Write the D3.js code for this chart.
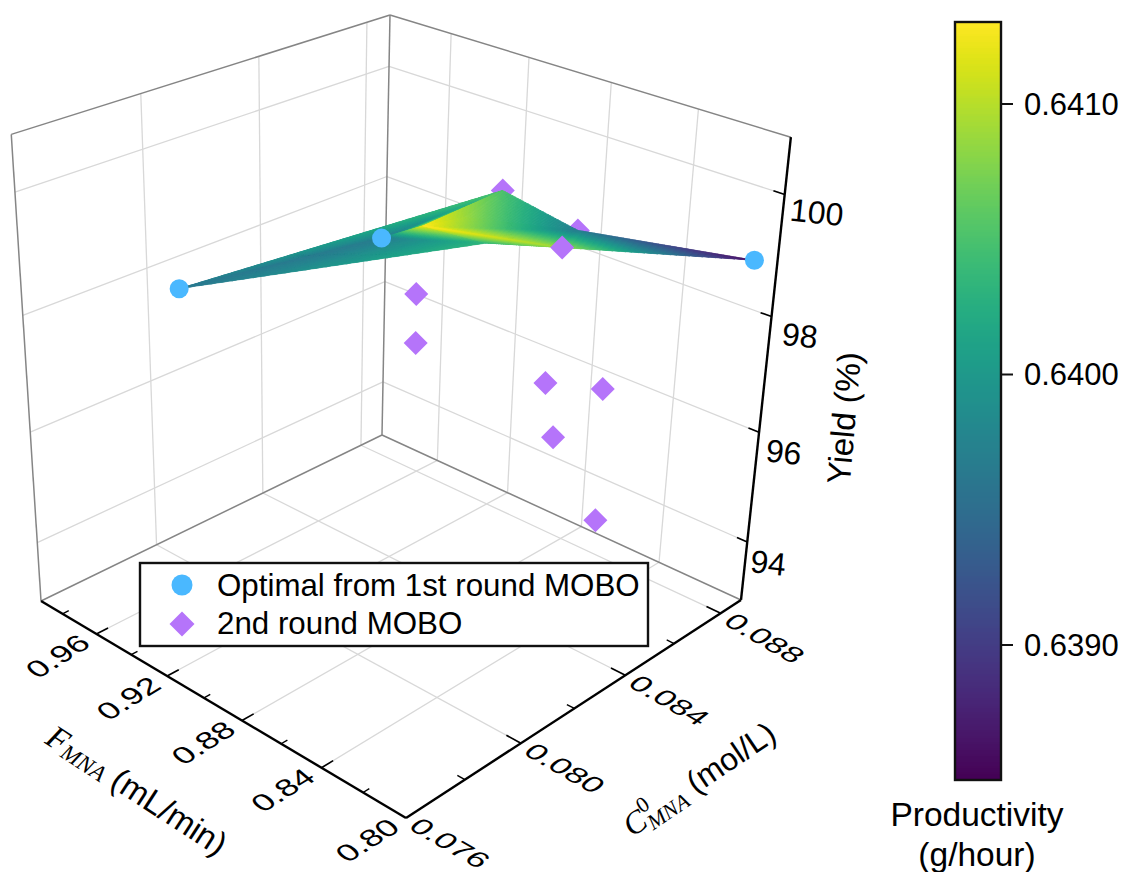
<!DOCTYPE html><html><head><meta charset="utf-8"><style>html,body{margin:0;background:#fff}svg{display:block}text{font-family:"Liberation Sans",Arial,sans-serif;fill:#000}</style></head><body><svg id="c" width="1121" height="872"></svg><script src="https://cdn.jsdelivr.net/npm/d3@7"></script><script>
// ---- data ----
const fTicks=[0.96,0.92,0.88,0.84,0.80];
const fMinor=[0.98,0.94,0.90,0.86,0.82];
const cTicks=[0.076,0.080,0.084,0.088];
const cMinor=[0.078,0.082,0.086];
const yTicks=[94,96,98,100];
const prodTicks=[0.6390,0.6400,0.6410];
// first-round optima: [F, C, yield]
const round1=[[0.931,0.0774,99],[0.912,0.0829,99],[0.804,0.0883,99]];
// second-round points: [F, C, yield]
const round2Back=[[0.873,0.0843,100],[0.909,0.0842,99],[0.866,0.0867,99]];
const round2Front=[[0.860,0.0856,99],[0.905,0.0837,98],[0.910,0.0841,97],[0.883,0.0872,96],[0.864,0.0880,96],[0.880,0.0874,95],[0.852,0.0870,94]];
// surface vertices: F, C, yield, productivity
const surfF=[0.931,0.912,0.873,0.909,0.882,0.860,0.866,0.804,0.904];
const surfC=[0.0774,0.0829,0.0843,0.0842,0.0845,0.0856,0.0867,0.0883,0.0853];
const surfY=[99,99,100,99,99,99,99,99,99];
const surfP=[0.63962,0.63968,0.64052,0.6413,0.64035,0.64088,0.63968,0.63856,0.64091];
const surfTri=[[0,2,1],[0,1,4],[1,2,3],[1,3,4],[2,8,3],[2,6,8],[3,8,6],[3,6,5],[3,5,4],[5,6,7]];
const legendLabels=["Optimal from 1st round MOBO","2nd round MOBO"];

// ---- projection ----
const aS=d3.scaleLinear().domain([0.993,0.80]).range([0,1]);
const bS=d3.scaleLinear().domain([0.0889,0.076]).range([0,1]);
const wS=d3.scaleLinear().domain([92.9,100.9]).range([0,1]);
function projRaw(a,b,w){
  const W=1-.1161*a-.123*b-.09*w;
  return [(382+272.97*a-346.04*b-27.1*w)/W,(435+95.3*a+92.1*b-421.35*w)/W];
}
const proj=(f,c,y)=>projRaw(aS(f),bS(c),wS(y));
const svg=d3.select("#c");
const line=d3.line();
function seg(g,p,q,col,wd){g.append("path").attr("d",line([p,q])).attr("fill","none").attr("stroke",col).attr("stroke-width",wd);}

// ---- panes ----
const gridCol="#d8d8d8",edgeCol="#858585";
const grid=svg.append("g");
fTicks.filter(f=>f>0.8).forEach(f=>{
  seg(grid,projRaw(aS(f),0,0),projRaw(aS(f),1,0),gridCol,1.3);
  seg(grid,projRaw(aS(f),0,0),projRaw(aS(f),0,1),gridCol,1.3);
});
cTicks.filter(c=>c>0.076).forEach(c=>{
  seg(grid,projRaw(0,bS(c),0),projRaw(1,bS(c),0),gridCol,1.3);
  seg(grid,projRaw(0,bS(c),0),projRaw(0,bS(c),1),gridCol,1.3);
});
yTicks.forEach(y=>{
  seg(grid,projRaw(0,1,wS(y)),projRaw(0,0,wS(y)),gridCol,1.3);
  seg(grid,projRaw(0,0,wS(y)),projRaw(1,0,wS(y)),gridCol,1.3);
});
[[[0,1,0],[0,1,1]],[[0,1,1],[0,0,1]],[[0,0,1],[1,0,1]],[[0,0,0],[0,0,1]],[[0,0,0],[0,1,0]],[[0,0,0],[1,0,0]]]
 .forEach(([p,q])=>seg(grid,projRaw(...p),projRaw(...q),edgeCol,1.5));

// ---- axes ----
const ax=svg.append("g");
seg(ax,projRaw(0,1,0),projRaw(1,1,0),"#000",2.4);
seg(ax,projRaw(1,1,0),projRaw(1,0,0),"#000",2.4);
seg(ax,projRaw(1,0,0),projRaw(1,0,1),"#000",2.4);
fTicks.forEach(f=>{if(f>0.8)seg(ax,projRaw(aS(f),1,0),projRaw(aS(f),.97,0),"#000",1.6);});
fMinor.forEach(f=>seg(ax,projRaw(aS(f),1,0),projRaw(aS(f),.984,0),"#000",1.4));
cTicks.forEach(c=>{if(c>0.076)seg(ax,projRaw(1,bS(c),0),projRaw(.965,bS(c),0),"#000",1.6);});
cMinor.forEach(c=>seg(ax,projRaw(1,bS(c),0),projRaw(.982,bS(c),0),"#000",1.4));
yTicks.forEach(y=>seg(ax,projRaw(1,0,wS(y)),projRaw(.975,0,wS(y)),"#000",1.6));

const tick3d=(x,y,rot,sk,sy,txt,fs)=>svg.append("text").attr("transform",`translate(${x},${y}) rotate(${rot}) skewX(${sk}) scale(1,${sy})`)
  .attr("text-anchor","middle").attr("dominant-baseline","central").attr("font-size",fs).text(txt);
fTicks.forEach(f=>{const [x,y]=projRaw(aS(f),1,0);tick3d(x-39,y+22,-32,18,.8,d3.format(".2f")(f),33);});
cTicks.forEach(c=>{const [x,y]=projRaw(1,bS(c),0);tick3d(x+44,y+25,30,-22,.74,d3.format(".3f")(c),33);});
const zdx=d3.scaleLinear().domain([94,100]).range([21,32]),zdy=d3.scaleLinear().domain([94,100]).range([21,18]);
yTicks.forEach(y=>{const [x,yy]=projRaw(1,0,wS(y));tick3d(x+zdx(y),yy+zdy(y),6,0,1,y,32);});

// axis titles
const t1=svg.append("text").attr("transform","translate(137,790) rotate(33)").attr("text-anchor","middle").attr("dominant-baseline","central").attr("font-size",33);
t1.append("tspan").attr("font-family","Liberation Serif").attr("font-style","italic").text("F");
t1.append("tspan").attr("font-family","Liberation Serif").attr("font-style","italic").attr("font-size",23).attr("dy",6).text("MNA");
t1.append("tspan").attr("dy",-6).text(" (mL/min)");
const t2=svg.append("text").attr("transform","translate(699,779) rotate(-34)").attr("text-anchor","middle").attr("dominant-baseline","central").attr("font-size",32);
t2.append("tspan").attr("font-family","Liberation Serif").attr("font-style","italic").text("C");
t2.append("tspan").attr("font-family","Liberation Serif").attr("font-size",22).attr("dy",-11).text("0");
t2.append("tspan").attr("font-family","Liberation Serif").attr("font-style","italic").attr("font-size",22).attr("dx",-11).attr("dy",20).text("MNA");
t2.append("tspan").attr("dy",-9).text(" (mol/L)");
svg.append("text").attr("transform","translate(844,418) rotate(-85)").attr("text-anchor","middle").attr("dominant-baseline","central").attr("font-size",33).text("Yield (%)");

// ---- colour ----
const cb={x:955,w:46,top:22,bot:780};
const pScale=d3.scaleLinear().domain([0.6390,0.6410]).range([645,104]);
const color=d3.scaleSequential(d3.interpolateViridis).domain([pScale.invert(cb.bot),pScale.invert(cb.top)]);

// ---- markers ----
const purple="#b574fa",blue="#4ab8ff";
const diamond=(g,cx,cy,r)=>g.append("path").attr("d",`M${cx},${cy-r}L${cx+r},${cy}L${cx},${cy+r}L${cx-r},${cy}Z`).attr("fill",purple);
const backM=svg.append("g");
round2Back.forEach(d=>{const [x,y]=proj(...d);diamond(backM,x,y,12);});

// ---- surface ----
const surf=svg.append("g");
const nSub=30;
surfTri.forEach(([i,j,k])=>{
  const v=t=>[surfF[t],surfC[t],surfY[t],surfP[t]];
  const A=v(i),B=v(j),C=v(k);
  const mix=(u,s)=>A.map((_,q)=>A[q]*u+B[q]*s+C[q]*(1-u-s));
  const P=(u,s)=>{const m=mix(u,s);return proj(m[0],m[1],m[2]);};
  const cell=(pts,cols)=>{const col=color(d3.mean(cols));
    surf.append("path").attr("d",line(pts)+"Z").attr("fill",col).attr("stroke",col).attr("stroke-width",.6);};
  for(let r=0;r<nSub;r++)for(let q=0;q<nSub-r;q++){
    const u0=r/nSub,s0=q/nSub,du=1/nSub;
    cell([P(u0,s0),P(u0+du,s0),P(u0,s0+du)],[mix(u0,s0)[3],mix(u0+du,s0)[3],mix(u0,s0+du)[3]]);
    if(q<nSub-r-1)cell([P(u0+du,s0),P(u0+du,s0+du),P(u0,s0+du)],[mix(u0+du,s0)[3],mix(u0+du,s0+du)[3],mix(u0,s0+du)[3]]);
  }
});
const frontM=svg.append("g");
round2Front.forEach(d=>{const [x,y]=proj(...d);diamond(frontM,x,y,12);});
round1.forEach(d=>{const [x,y]=proj(...d);frontM.append("circle").attr("cx",x).attr("cy",y).attr("r",9.5).attr("fill",blue);});

// ---- legend ----
const lg=svg.append("g");
lg.append("rect").attr("x",140).attr("y",563).attr("width",508).attr("height",83).attr("fill","#fff").attr("stroke","#111").attr("stroke-width",2.4);
lg.append("circle").attr("cx",182).attr("cy",585).attr("r",10.5).attr("fill",blue);
diamond(lg,182,624,12.5);
legendLabels.forEach((t,i)=>lg.append("text").attr("x",217).attr("y",596+i*38).attr("font-size",31.3).text(t));

// ---- colourbar ----
const cbG=svg.append("g");
const steps=d3.range(cb.top,cb.bot,2);
cbG.selectAll("rect.s").data(steps).join("rect").attr("class","s").attr("x",cb.x).attr("y",d=>d).attr("width",cb.w).attr("height",2.4)
  .attr("fill",d=>color(pScale.invert(d+1)));
cbG.append("rect").attr("x",cb.x).attr("y",cb.top).attr("width",cb.w).attr("height",cb.bot-cb.top).attr("fill","none").attr("stroke","#111").attr("stroke-width",2.4);
prodTicks.forEach(p=>{
  cbG.append("line").attr("x1",cb.x+cb.w).attr("x2",cb.x+cb.w+12).attr("y1",pScale(p)).attr("y2",pScale(p)).attr("stroke","#111").attr("stroke-width",2);
  cbG.append("text").attr("x",1024).attr("y",pScale(p)).attr("dominant-baseline","central").attr("font-size",31).text(d3.format(".4f")(p));
});
["Productivity","(g/hour)"].forEach((t,i)=>cbG.append("text").attr("x",977).attr("y",826+i*40).attr("text-anchor","middle").attr("font-size",33.5).text(t));
</script></body></html>
